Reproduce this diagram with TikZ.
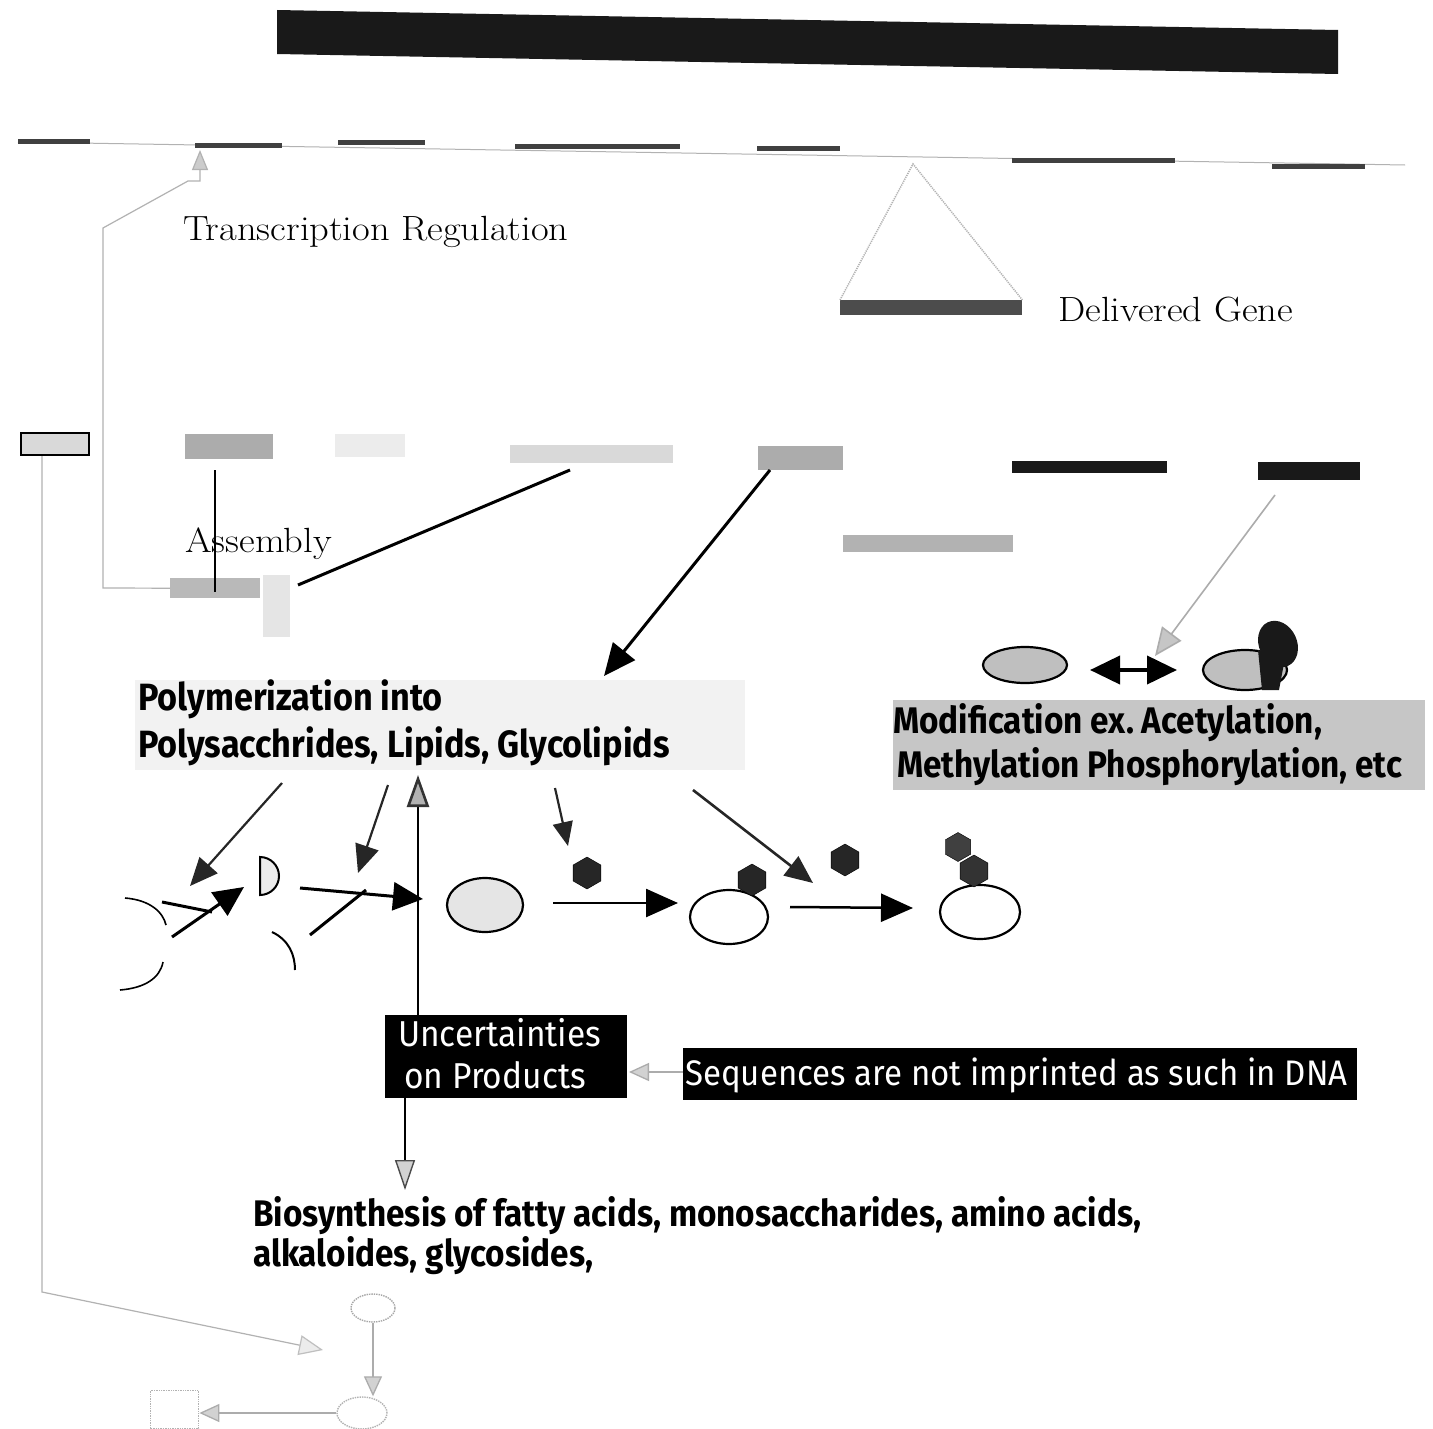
\documentclass[tikz,border=0pt]{standalone}
\usepackage{fontspec}
\newfontfamily\lbl[FakeStretch=0.9]{Fira Sans}
\newfontfamily\wlbl[FakeStretch=0.93]{Fira Sans}
\usetikzlibrary{arrows.meta,shapes.geometric}
\frenchspacing
\newcommand{\wideserif}[1]{\scalebox{1.1}[1]{#1}}
\begin{document}
\begin{tikzpicture}[x=1pt,y=-1pt,
  box/.style={draw=none,rectangle,inner sep=0pt,anchor=north west},
  dnaseg/.style={box,fill=black!75,minimum height=5pt},
  serif/.style={anchor=base west,inner sep=0pt,font=\fontsize{35}{40}\selectfont},
  lab/.style={anchor=base west,inner sep=0pt,font=\lbl\bfseries\fontsize{37}{42}\selectfont},
  wlab/.style={anchor=base west,inner sep=0pt,text=white,font=\wlbl\fontsize{36}{42}\selectfont},
  faint/.style={draw=gray!60,line width=1.2pt},
  bigarr/.style={line width=3pt,-{Triangle[length=32pt,width=28pt]}},
  midarr/.style={draw=black!85,line width=2.6pt,-{Triangle[length=28pt,width=24pt]}},
  grayarr/.style={draw=gray!65,line width=1.3pt,-{Triangle[length=20pt,width=18pt,fill=gray!35,color=gray!65]}},
  hexa/.style={regular polygon,regular polygon sides=6,shape border rotate=30,fill=black!85,draw=black,minimum size=32pt,inner sep=0pt},
  cell/.style={ellipse,draw=black,line width=2.2pt,inner sep=0pt}
]
\useasboundingbox (0,0) rectangle (1433,1429);
\fill[white] (0,0) rectangle (1433,1429);

% title bar
\fill[black!90] (277,10) -- (1338,30) -- (1338,74) -- (277,54) -- cycle;

% DNA line
\coordinate (dnaL) at (18,142);
\coordinate (dnaR) at (1405,165);
\draw[faint,line width=1pt] (dnaL) -- (dnaR);
\node[dnaseg,minimum width=72pt] (s1) at (18,139) {};
\node[dnaseg,minimum width=87pt] (s2) at (195,143) {};
\node[dnaseg,minimum width=87pt] (s3) at (338,140) {};
\node[dnaseg,minimum width=165pt] (s4) at (515,144) {};
\node[dnaseg,minimum width=83pt] (s5) at (757,146) {};
\node[dnaseg,minimum width=163pt] (s6) at (1012,158) {};
\node[dnaseg,minimum width=93pt] (s7) at (1272,164) {};

% labels (serif)
\node[serif] (tr) at (183,240) {\wideserif{Transcription Regulation}};
\node[serif] (dgl) at (1058,321) {\wideserif{Delivered Gene}};
\node[serif] (asl) at (185,552) {\wideserif{Assembly}};

% delivered gene and insertion triangle
\node[box,fill=black!70,minimum width=182pt,minimum height=15pt] (dg) at (840,300) {};
\coordinate (apex) at (913,164);
\draw[faint,densely dotted,line width=1.5pt] (dg.north west) -- (apex) -- (dg.north east);

% gene row
\node[box,fill=gray!30,draw=black,line width=2pt,minimum width=68pt,minimum height=22pt] (g1) at (20,432) {};
\node[box,fill=gray!65,minimum width=88pt,minimum height=25pt] (g2) at (185,434) {};
\node[box,fill=gray!15,minimum width=70pt,minimum height=23pt] (g3) at (335,434) {};
\node[box,fill=gray!30,minimum width=163pt,minimum height=18pt] (g4) at (510,445) {};
\node[box,fill=gray!65,minimum width=85pt,minimum height=24pt] (g5) at (758,446) {};
\node[box,fill=black!90,minimum width=155pt,minimum height=12pt] (g6) at (1012,461) {};
\node[box,fill=black!90,minimum width=102pt,minimum height=18pt] (g7) at (1258,462) {};
\node[box,fill=gray!60,minimum width=170pt,minimum height=17pt] (g8) at (843,535) {};

% assembly boxes
\node[box,fill=gray!55,minimum width=90pt,minimum height=20pt] (asm) at (170,578) {};
\node[box,fill=gray!20,minimum width=27pt,minimum height=62pt] (asm2) at (263,575) {};

% transcription regulation feedback
\coordinate (trA) at (103,588);
\coordinate (trB) at (103,228);
\coordinate (trC) at (188,181);
\coordinate (trD) at (200,181);
\coordinate (trE) at (200,150);
\draw[faint,-{Triangle[length=20pt,width=16pt,fill=gray!40,color=gray!60]}] (asm.west) -- (trA) -- (trB) -- (trC) -- (trD) -- (trE);

% assembly lines
\coordinate (asT) at (215,470);
\coordinate (asB) at (215,592);
\draw[line width=2.2pt] (asT) -- (asB);
\coordinate (g4o) at (570,470);
\coordinate (asE) at (298,585);
\draw[line width=3pt] (g4o) -- (asE);

% arrow to polymerization
\coordinate (g5o) at (770,470);
\coordinate (polyIn) at (604,676);
\draw[bigarr] (g5o) -- (polyIn);

% modification
\coordinate (g7o) at (1275,495);
\coordinate (modIn) at (1155,656);
\draw[grayarr,line width=1.6pt,-{Triangle[length=28pt,width=24pt,fill=gray!45,color=gray!65]}] (g7o) -- (modIn);
\node[cell,fill=gray!50,minimum width=84pt,minimum height=36pt] (m1) at (1025,665) {};
\node[cell,fill=gray!50,minimum width=84pt,minimum height=40pt] (m2) at (1245,670) {};
\fill[black!90] (1258,650) -- (1285,658) -- (1279,690) -- (1262,690) -- cycle;
\fill[black!90,rotate around={25:(1278,644)}] (1278,644) ellipse[x radius=19,y radius=24];
\coordinate (dA) at (1090,670);
\coordinate (dB) at (1177,670);
\draw[line width=4pt,{Triangle[length=30pt,width=28pt]}-{Triangle[length=30pt,width=28pt]}] (dA) -- (dB);

\node[box,fill=gray!45,minimum width=532pt,minimum height=90pt] (modbg) at (893,700) {};
\node[lab] (mod1) at (893,733) {Modification ex. Acetylation,};
\node[lab] (mod2) at (897,777) {Methylation Phosphorylation, etc};

% polymerization
\node[box,fill=gray!10,minimum width=610pt,minimum height=90pt] (polybg) at (135,680) {};
\node[lab,font=\lbl\bfseries\fontsize{38}{42}\selectfont] (poly1) at (138,710) {Polymerization into};
\node[lab,font=\lbl\bfseries\fontsize{38}{42}\selectfont] (poly2) at (138,757) {Polysacchrides, Lipids, Glycolipids};

% arrows from polymerization
\coordinate (p1a) at (282,783); \coordinate (p1b) at (190,886);
\coordinate (p2a) at (388,785); \coordinate (p2b) at (358,873);
\coordinate (p3a) at (555,788); \coordinate (p3b) at (568,846);
\coordinate (p4a) at (693,790); \coordinate (p4b) at (813,883);
\draw[midarr,line width=2.2pt] (p1a) -- (p1b);
\draw[midarr,line width=2.2pt] (p2a) -- (p2b);
\draw[midarr,line width=2.2pt,-{Triangle[length=24pt,width=20pt]}] (p3a) -- (p3b);
\draw[midarr,line width=2.6pt] (p4a) -- (p4b);

% building blocks
\draw[line width=1.6pt] (125,898) .. controls (150,900) and (163,912) .. (166,925);
\draw[line width=1.6pt] (120,990) .. controls (145,988) and (160,978) .. (163,962);
\coordinate (l1a) at (162,902); \coordinate (l1b) at (212,912);
\draw[line width=3pt] (l1a) -- (l1b);
\coordinate (l2a) at (172,937); \coordinate (l2b) at (244,887);
\draw[bigarr,-{Triangle[length=30pt,width=28pt]}] (l2a) -- (l2b);
\draw[line width=2pt,fill=gray!15] (260,857) arc[start angle=-90,end angle=90,radius=19] -- cycle;
\draw[line width=2pt] (272,932) .. controls (289,940) and (295,955) .. (295,970);
\coordinate (l3a) at (300,888); \coordinate (l3b) at (423,899);
\draw[bigarr,-{Triangle[length=30pt,width=28pt]}] (l3a) -- (l3b);
\coordinate (l4a) at (310,935); \coordinate (l4b) at (366,890);
\draw[line width=3pt] (l4a) -- (l4b);

% products
\node[cell,fill=gray!20,minimum width=76pt,minimum height=54pt] (e1) at (485,905) {};
\node[hexa] (h1) at (587,873) {};
\coordinate (q1a) at (553,903); \coordinate (q1b) at (678,903);
\draw[bigarr,line width=2.5pt] (q1a) -- (q1b);
\node[cell,fill=white,minimum width=78pt,minimum height=54pt] (e2) at (729,917) {};
\node[hexa] (h2) at (752,880) {};
\node[hexa] (h3) at (845,860) {};
\coordinate (q2a) at (790,907); \coordinate (q2b) at (913,908);
\draw[bigarr,line width=2.5pt] (q2a) -- (q2b);
\node[cell,fill=white,minimum width=80pt,minimum height=54pt] (e3) at (980,912) {};
\node[hexa,minimum size=29pt,fill=black!75] (h4) at (958,847) {};
\node[hexa,fill=black!80] (h5) at (974,871) {};

% uncertainties
\node[box,fill=black,minimum width=242pt,minimum height=83pt] (unc) at (385,1015) {};
\node[wlab] (unc1) at (398,1046) {Uncertainties};
\node[wlab] (unc2) at (404,1088) {on Products};
\node[box,fill=black,minimum width=674pt,minimum height=52pt] (seq) at (683,1048) {};
\node[wlab,font=\wlbl\fontsize{35.5}{42}\selectfont] (seqt) at (685,1085) {Sequences are not imprinted as such in DNA};
\coordinate (seqIn) at (629,1072);
\draw[grayarr] (seq.west |- seqIn) -- (seqIn);
\coordinate (upT) at (418,775);
\draw[bigarr,line width=2.6pt,-{Triangle[length=32pt,width=22pt,fill=gray!60,color=black!80]}] (unc.north -| upT) -- (upT);
\coordinate (dnT) at (405,1190);
\draw[line width=1.4pt,-{Triangle[length=30pt,width=20pt,fill=gray!35,color=black!70]}] (unc.south -| dnT) -- (dnT);

% biosynthesis
\node[lab] (bio1) at (253,1226) {Biosynthesis of fatty acids, monosaccharides, amino acids,};
\node[lab] (bio2) at (253,1266) {alkaloides, glycosides,};

% left long feedback
\coordinate (fbA) at (42,1292);
\coordinate (fbB) at (323,1350);
\draw[faint,-{Triangle[length=24pt,width=20pt,fill=gray!15,color=gray!50]}] (g1.south -| fbA) -- (fbA) -- (fbB);

% bottom small pathway
\node[ellipse,draw=gray!70,line width=1.4pt,densely dotted,minimum width=44pt,minimum height=28pt] (b1) at (373,1308) {};
\node[ellipse,draw=gray!60,line width=1.4pt,densely dotted,minimum width=50pt,minimum height=32pt] (b2) at (362,1413) {};
\node[box,draw=gray!60,line width=1.4pt,densely dotted,minimum width=48pt,minimum height=38pt] (b3) at (150,1390) {};
\draw[grayarr] (b1.south) -- (b1.south |- b2.north);
\draw[grayarr] (b2.west) -- (b3.east |- b2.west);
\end{tikzpicture}
\end{document}
